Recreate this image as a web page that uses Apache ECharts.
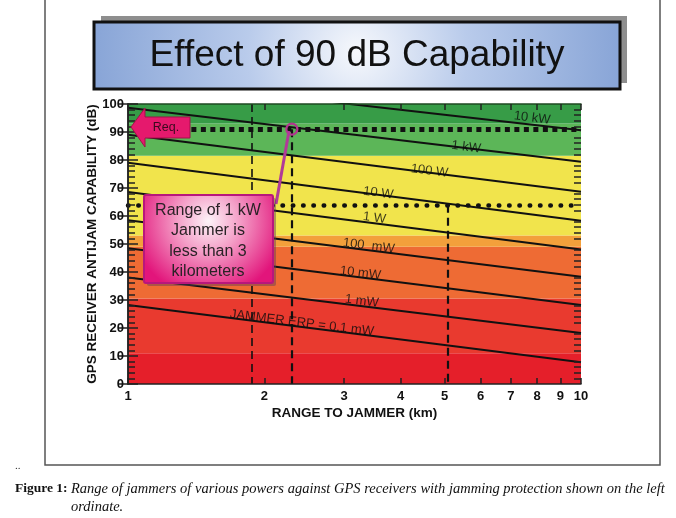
<!DOCTYPE html>
<html><head><meta charset="utf-8">
<script src="https://cdn.jsdelivr.net/npm/echarts@6/dist/echarts.min.js"></script>
<style>html,body{margin:0;padding:0;background:#fff}#c{width:676px;height:518px}</style>
</head><body><div id="c"></div>
<script>
// ---- data ----
const rangeTicksKm = [1, 2, 3, 4, 5, 6, 7, 8, 9, 10];
const jammerNames = ['JAMMER ERP = 0.1 mW', '1 mW', '10 mW', '100  mW', '1 W', '10 W', '100 W', '1 kW', '10 kW'];
const dbAt1km  = [28.2, 38.0, 48.5, 58.5, 68.6, 79.0, 89.0, 98.7, 109.0];
const dbAt10km = [7.8, 18.2, 28.2, 38.3, 48.0, 58.3, 68.7, 79.4, 90.6];
const nameLabelKm = [2.42, 3.28, 3.26, 3.40, 3.50, 3.57, 4.63, 5.58, 7.80];
const nameLabelDb = [21.8, 29.6, 39.6, 49.3, 59.3, 68.2, 76.1, 84.6, 95.0];
const bandEdgesDb = [0, 11, 30.5, 49, 53, 81.5, 93, 100];
const requiredDb = 91;
const reqLineStartKm = 1.38;
const oneKwRangeKm = 2.30;
const secondLevelDb = 64;
const dashedLeftKm = 1.88;
const fiveKmMarkKm = 5.07;

// ---- styles ----
const bandColors = ['#e51f2a', '#e93a2f', '#ee6b34', '#f3a03b', '#f1e44c', '#5cb658', '#379c47'];
const SANS = "'Liberation Sans', Arial, sans-serif";
const SERIF = "'Liberation Serif', 'Times New Roman', serif";

const chart = echarts.init(document.getElementById('c'), null, {renderer: 'canvas'});

const tickLogs = rangeTicksKm.map(k => Math.log10(k));

const lineSeries = jammerNames.map((n, i) => ({
  type: 'line', name: n, xAxisIndex: 0, yAxisIndex: 0,
  data: [[1, dbAt1km[i]], [10, dbAt10km[i]]],
  symbol: 'none', clip: true, z: 3, silent: true,
  lineStyle: {color: '#111', width: 2}
}));

const bandAreas = [];
for (let i = 0; i < bandColors.length; i++) {
  bandAreas.push([{yAxis: bandEdgesDb[i], itemStyle: {color: bandColors[i]}}, {yAxis: bandEdgesDb[i + 1]}]);
}

const tickLine = {color: '#222', width: 1.5};
function minorTickAxis(pos) {
  return {type: 'value', min: 0, max: 100, interval: 10, position: pos, offset: -7, z: 10,
    axisLine: {show: false}, axisTick: {show: false},
    minorTick: {show: true, splitNumber: 5, length: 7, lineStyle: tickLine},
    axisLabel: {show: false}, splitLine: {show: false}};
}

const option = {
  animation: false,
  backgroundColor: '#fff',
  grid: {left: 128, right: 95, top: 104, bottom: 134, containLabel: false},
  xAxis: [
    {type: 'log', logBase: 10, min: 1, max: 10, position: 'bottom', show: false},
    {type: 'value', min: 0, max: 1, position: 'bottom', z: 10,
      axisLine: {show: true, onZero: false, lineStyle: {color: '#222', width: 1.5}},
      axisTick: {show: true, inside: true, length: 6, customValues: tickLogs, lineStyle: tickLine},
      axisLabel: {customValues: tickLogs, formatter: v => String(Math.round(Math.pow(10, v))),
        fontFamily: SANS, fontWeight: 'bold', fontSize: 13, color: '#111', margin: 6},
      splitLine: {show: false},
      name: 'RANGE TO JAMMER (km)', nameLocation: 'middle', nameGap: 22, nameMoveOverlap: false,
      nameTextStyle: {fontFamily: SANS, fontWeight: 'bold', fontSize: 13.5, color: '#111'}},
    {type: 'value', min: 0, max: 1, position: 'top', z: 10,
      axisLine: {show: true, onZero: false, lineStyle: {color: '#1f4a22', width: 1.5}},
      axisTick: {show: true, inside: true, length: 6, customValues: tickLogs, lineStyle: tickLine},
      axisLabel: {show: false}, splitLine: {show: false}}
  ],
  yAxis: [
    {type: 'value', min: 0, max: 100, interval: 10, position: 'left', z: 10,
      axisLine: {show: true, lineStyle: {color: '#222', width: 1.5}},
      axisTick: {show: true, inside: true, length: 10, lineStyle: tickLine},
      axisLabel: {fontFamily: SANS, fontWeight: 'bold', fontSize: 13, color: '#111', margin: 4},
      splitLine: {show: false},
      name: 'GPS RECEIVER ANTIJAM CAPABILITY (dB)', nameLocation: 'middle', nameGap: 29, nameRotate: 90,
      nameMoveOverlap: false,
      nameTextStyle: {fontFamily: SANS, fontWeight: 'bold', fontSize: 13.5, color: '#111'}},
    {type: 'value', min: 0, max: 100, interval: 10, position: 'right', z: 10,
      axisLine: {show: true, lineStyle: {color: '#222', width: 1.5}},
      axisTick: {show: true, inside: true, length: 9, lineStyle: tickLine},
      axisLabel: {show: false}, splitLine: {show: false}},
    minorTickAxis('left'),
    minorTickAxis('right')
  ],
  series: [
    {type: 'line', name: 'bands', xAxisIndex: 0, yAxisIndex: 0, data: [], z: 1, silent: true,
      markArea: {silent: true, data: bandAreas}},
    ...lineSeries,
    {type: 'scatter', name: 'powerLabels', xAxisIndex: 0, yAxisIndex: 0, z: 5, silent: true,
      symbolSize: 2, itemStyle: {color: 'rgba(0,0,0,0)'},
      data: jammerNames.map((n, i) => [nameLabelKm[i], nameLabelDb[i], n]),
      label: {show: true, position: 'inside', formatter: p => p.data[2], rotate: -7,
        fontFamily: SANS, fontSize: 13, color: '#0c0c0c'}},
    {type: 'line', name: 'annotations', xAxisIndex: 0, yAxisIndex: 0, data: [], z: 6, silent: true,
      markLine: {silent: true, symbol: ['none', 'none'], label: {show: false},
        data: [
          [{coord: [reqLineStartKm, requiredDb], lineStyle: {type: [5, 4.5], width: 5, color: '#111', cap: 'butt'}},
           {coord: [10, requiredDb]}],
          [{coord: [1, secondLevelDb], lineStyle: {type: [0.5, 9.8], width: 4.5, color: '#111', cap: 'round'}},
           {coord: [10, secondLevelDb]}],
          [{coord: [dashedLeftKm, 100], lineStyle: {type: [8, 5], width: 1.6, color: '#111'}},
           {coord: [dashedLeftKm, 0]}],
          [{coord: [oneKwRangeKm, requiredDb], lineStyle: {type: [8, 5], width: 2.2, color: '#111'}},
           {coord: [oneKwRangeKm, 0]}],
          [{coord: [fiveKmMarkKm, secondLevelDb], lineStyle: {type: [8, 5], width: 2.2, color: '#111'}},
           {coord: [fiveKmMarkKm, 0]}]
        ]},
      markPoint: {silent: true, symbol: 'circle', symbolSize: 11, label: {show: false},
        itemStyle: {color: 'rgba(0,0,0,0)', borderColor: '#b3358f', borderWidth: 2.2},
        data: [{coord: [oneKwRangeKm, requiredDb]}]}}
  ],
  graphic: [
    // outer frame
    {type: 'rect', z: 0, silent: true, shape: {x: 45, y: -5, width: 615, height: 470},
      style: {fill: 'none', stroke: '#555', lineWidth: 1.5}},
    // title box
    {type: 'rect', z: 1, silent: true, shape: {x: 101, y: 16, width: 526, height: 67},
      style: {fill: '#8e8e8e'}},
    {type: 'rect', z: 2, silent: true, shape: {x: 94, y: 22, width: 526, height: 67},
      style: {stroke: '#111', lineWidth: 3,
        fill: new echarts.graphic.RadialGradient(0.5, 0.45, 4.5, [
          {offset: 0, color: '#f6f8fc'}, {offset: 0.35, color: '#b9cbeb'}, {offset: 1, color: '#7898d0'}])}},
    {type: 'text', z: 3, silent: true, x: 357, y: 56,
      style: {text: 'Effect of 90 dB Capability', font: "37px 'Liberation Sans', Arial, sans-serif",
        fill: '#111', align: 'center', verticalAlign: 'middle'}},
    // Req. arrow
    {type: 'polygon', z: 50, silent: true,
      shape: {points: [[131, 127], [145, 108], [145, 117], [190, 117], [190, 138], [145, 138], [145, 147]]},
      style: {fill: '#e5196d', stroke: '#a3104a', lineWidth: 1}},
    {type: 'text', z: 51, silent: true, x: 166, y: 128,
      style: {text: 'Req.', font: "12.5px 'Liberation Sans', Arial, sans-serif", fill: '#3a0a1e',
        align: 'center', verticalAlign: 'middle'}},
    // connector
    {type: 'line', z: 49, silent: true, shape: {x1: 276, y1: 204, x2: 289, y2: 131},
      style: {stroke: '#b13a98', lineWidth: 3}},
    // callout box
    {type: 'rect', z: 50, silent: true, shape: {x: 147, y: 198, width: 129, height: 88, r: 2},
      style: {fill: 'rgba(90,60,90,0.45)'}},
    {type: 'rect', z: 51, silent: true, shape: {x: 144, y: 195, width: 129, height: 88, r: 2},
      style: {stroke: '#b8177c', lineWidth: 2,
        fill: new echarts.graphic.RadialGradient(0.5, 0.3, 0.85, [
          {offset: 0, color: '#fdf3f8'}, {offset: 0.4, color: '#f4a0c8'}, {offset: 1, color: '#e2157b'}])}},
    {type: 'text', z: 52, silent: true, x: 208, y: 241,
      style: {text: 'Range of 1 kW\nJammer is\nless than 3\nkilometers', font: "16px 'Liberation Sans', Arial, sans-serif",
        lineHeight: 20.5, fill: '#2a2226', align: 'center', verticalAlign: 'middle'}},
    // caption
    {type: 'text', z: 2, silent: true, x: 15, y: 466,
      style: {text: '..', font: "11px 'Liberation Serif', serif", fill: '#333', verticalAlign: 'middle'}},
    {type: 'text', z: 2, silent: true, x: 15, y: 489,
      style: {text: '{b|Figure 1:} {i|Range of jammers of various powers against GPS receivers with jamming protection shown on the left}',
        verticalAlign: 'middle',
        rich: {b: {fontFamily: SERIF, fontWeight: 'bold', fontSize: 13.5, fill: '#111'},
               i: {fontFamily: SERIF, fontStyle: 'italic', fontSize: 14.5, fill: '#111'}}}},
    {type: 'text', z: 2, silent: true, x: 71, y: 507,
      style: {text: 'ordinate.', font: "italic 14.5px 'Liberation Serif', serif", fill: '#111', verticalAlign: 'middle'}}
  ]
};
chart.setOption(option);
</script></body></html>
